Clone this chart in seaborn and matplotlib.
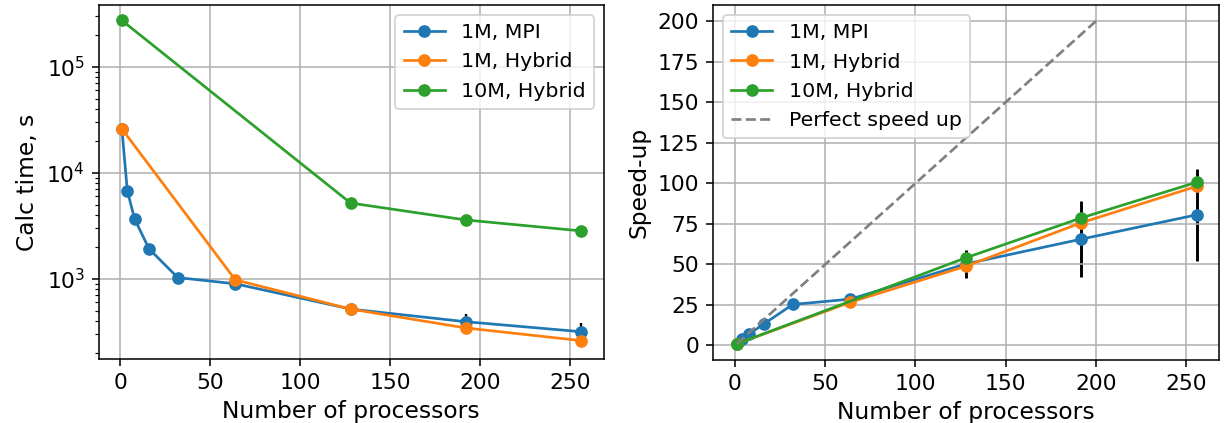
import numpy as np
import pandas as pd
import matplotlib
matplotlib.use("Agg")
import matplotlib.pyplot as plt
import seaborn as sns

# ---- data ----
procs_mpi = [1, 4, 8, 16, 32, 64, 128, 192, 256]
time_mpi = [26000, 6800, 3700, 1930, 1030, 900, 520, 395, 318]
time_mpi_err = [0, 0, 0, 0, 0, 0, 30, 75, 65]

procs_hyb1 = [1, 64, 128, 192, 256]
time_hyb1 = [26000, 980, 520, 345, 262]

procs_hyb10 = [1, 128, 192, 256]
time_hyb10 = [274000, 5200, 3600, 2840]

speed_mpi = [1, 3.9, 7.2, 13.3, 25.3, 28.6, 50.3, 65.6, 80.6]
speed_mpi_err = [0, 0, 0, 0, 0, 0, 8.6, 23.3, 28.2]
speed_hyb1 = [1, 26.7, 48.9, 75.7, 98.2]
speed_hyb10 = [1, 54.1, 78.7, 100.7]

perfect_x = [1, 200]
perfect_y = [1, 200]

labels = ["1M, MPI", "1M, Hybrid", "10M, Hybrid"]
colors = ["#1f77b4", "#ff7f0e", "#2ca02c"]

plt.rcParams.update({
    "font.family": ["DejaVu Sans"],
    "xtick.labelsize": 11.3,
    "ytick.labelsize": 11.3,
    "axes.labelsize": 12.1,
    "legend.fontsize": 10.6,
})

DPI = 139
W, H = 1225, 423
fig = plt.figure(figsize=(W / DPI, H / DPI), dpi=DPI)
ax1 = fig.add_axes([98.5 / W, (H - 359.2) / H, (604 - 98.5) / W, (359.2 - 4.8) / H])
ax2 = fig.add_axes([713 / W, (H - 360) / H, (1219.3 - 713) / W, (360 - 5) / H])

line_kw = dict(marker="o", markersize=5.8, linewidth=1.4)

# ---- left: calc time ----
ax1.errorbar(procs_mpi, time_mpi, yerr=time_mpi_err, fmt="none", ecolor="black",
             elinewidth=1.2, zorder=1.5)
for xs, ys, lab, c in [(procs_mpi, time_mpi, labels[0], colors[0]),
                       (procs_hyb1, time_hyb1, labels[1], colors[1]),
                       (procs_hyb10, time_hyb10, labels[2], colors[2])]:
    sns.lineplot(x=xs, y=ys, ax=ax1, label=lab, color=c, markeredgecolor=c, **line_kw)
ax1.set_yscale("log")
ax1.set_ylim(175, 3.85e5)
ax1.set_xlim(-12, 268.8)
ax1.set_xlabel("Number of processors")
ax1.set_ylabel("Calc time, s")
ax1.grid(True, which="major", color="#b0b0b0", linewidth=0.8)
ax1.legend(loc="upper right")

# ---- right: speed-up ----
ax2.errorbar(procs_mpi, speed_mpi, yerr=speed_mpi_err, fmt="none", ecolor="black",
             elinewidth=1.5, zorder=1.5)
for xs, ys, lab, c in [(procs_mpi, speed_mpi, labels[0], colors[0]),
                       (procs_hyb1, speed_hyb1, labels[1], colors[1]),
                       (procs_hyb10, speed_hyb10, labels[2], colors[2])]:
    sns.lineplot(x=xs, y=ys, ax=ax2, label=lab, color=c, markeredgecolor=c, **line_kw)
sns.lineplot(x=perfect_x, y=perfect_y, ax=ax2, color="grey", linestyle="--",
             linewidth=1.4, label="Perfect speed up")
ax2.set_xlim(-12.2, 268.4)
ax2.set_ylim(-8.95, 209.95)
ax2.set_yticks([0, 25, 50, 75, 100, 125, 150, 175, 200])
ax2.set_xlabel("Number of processors")
ax2.set_ylabel("Speed-up")
ax2.grid(True, color="#b0b0b0", linewidth=0.8)
ax2.legend(loc="upper left")

fig.savefig("out.png", dpi=DPI)
